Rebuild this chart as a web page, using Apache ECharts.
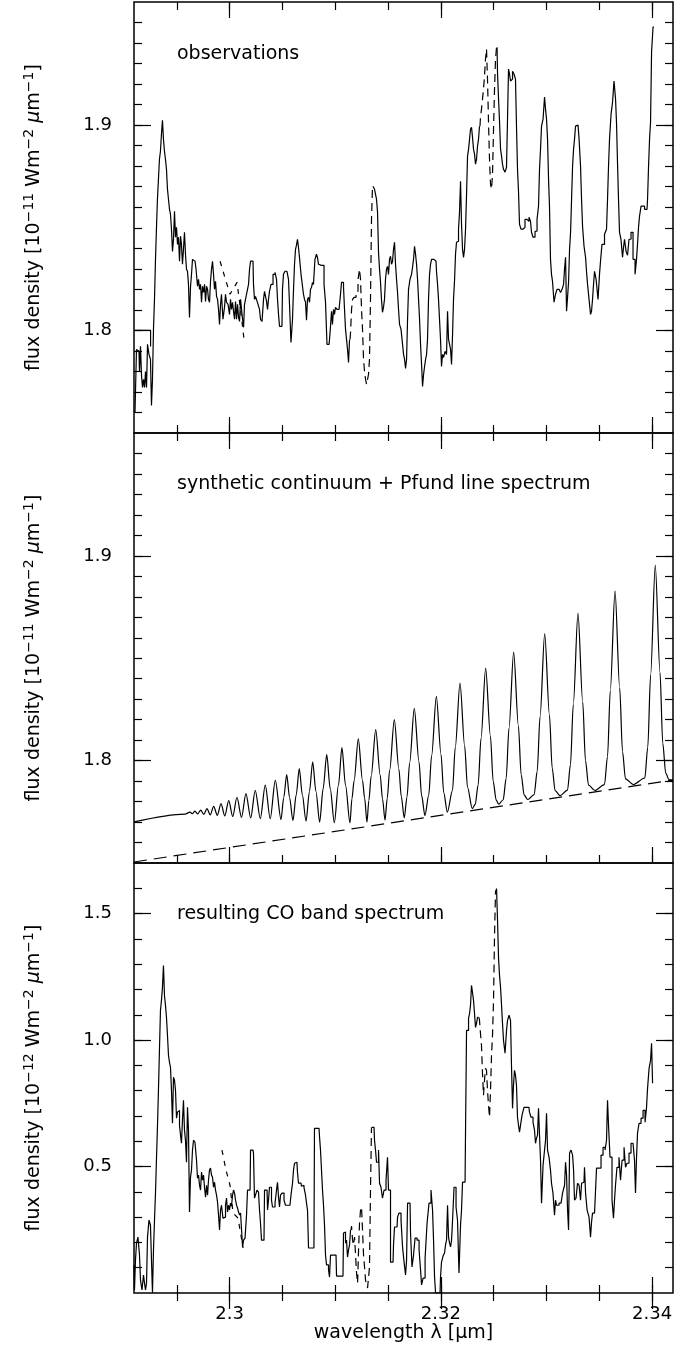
<!DOCTYPE html>
<html><head><meta charset="utf-8">
<script src="https://cdn.jsdelivr.net/npm/echarts@6/dist/echarts.min.js"></script>
<style>html,body{margin:0;padding:0;background:#fff}#c{width:694px;height:1351px}</style>
</head><body><div id="c"></div>
<script>
// ---------- tick values / labels ----------
const xMajorTicks = [2.30, 2.32, 2.34];
const xMinorTicks = [2.295, 2.300, 2.305, 2.310, 2.315, 2.320, 2.325, 2.330, 2.335, 2.340];
const fluxMajorTicks = [1.8, 1.9];
const fluxMinorTicks = [1.76,1.77,1.78,1.79,1.80,1.81,1.82,1.83,1.84,1.85,1.86,1.87,1.88,1.89,1.90,1.91,1.92,1.93,1.94,1.95];
const coMajorTicks = [0.5, 1.0, 1.5];
const coMinorTicks = [0.1,0.2,0.3,0.4,0.5,0.6,0.7,0.8,0.9,1.0,1.1,1.2,1.3,1.4,1.5,1.6];
const panelTexts = ['observations', 'synthetic continuum + Pfund line spectrum', 'resulting CO band spectrum'];

// ---------- panel 1: observations (10^-11 W m^-2 um^-1) ----------
const obsSolidA = [[2.29094,1.7610],[2.29113,1.7600],[2.29122,1.7907],[2.29141,1.7898],[2.29151,1.7800],[2.29160,1.7922],[2.29170,1.7781],[2.29179,1.7722],[2.29189,1.7761],[2.29198,1.7722],[2.29208,1.7800],[2.29217,1.7722],[2.29227,1.7932],[2.29245,1.7883],[2.29255,1.7859],[2.29264,1.7634],[2.29274,1.7761],[2.29283,1.8005],[2.29293,1.8151],[2.29302,1.8346],[2.29311,1.8493],[2.29321,1.8639],[2.29330,1.8737],[2.29340,1.8834],[2.29349,1.8873],[2.29359,1.8956],[2.29368,1.9024],[2.29378,1.8932],[2.29387,1.8873],[2.29397,1.8834],[2.29406,1.8785],[2.29416,1.8688],[2.29425,1.8639],[2.29435,1.8590],[2.29444,1.8566],[2.29454,1.8493],[2.29463,1.8385],[2.29473,1.8444],[2.29482,1.8580],[2.29492,1.8454],[2.29501,1.8502],[2.29511,1.8419],[2.29520,1.8454],[2.29530,1.8337],[2.29539,1.8459],[2.29548,1.8419],[2.29558,1.8322],[2.29567,1.8395],[2.29577,1.8478],[2.29586,1.8371],[2.29596,1.8298],[2.29605,1.8288],[2.29615,1.8224],[2.29624,1.8063],[2.29634,1.8210],[2.29643,1.8273],[2.29653,1.8346],[2.29672,1.8337],[2.29691,1.8298],[2.29700,1.8215],[2.29710,1.8249],[2.29719,1.8200],[2.29729,1.8224],[2.29738,1.8137],[2.29748,1.8215],[2.29757,1.8185],[2.29767,1.8224],[2.29776,1.8141],[2.29786,1.8215],[2.29795,1.8200],[2.29804,1.8151],[2.29814,1.8137],[2.29823,1.8239],[2.29833,1.8298],[2.29842,1.8337],[2.29852,1.8273],[2.29861,1.8200],[2.29871,1.8239],[2.29880,1.8166],[2.29890,1.8151],[2.29899,1.8102],[2.29909,1.8029],[2.29918,1.8127],[2.29927,1.8176],[2.29946,1.8054],[2.29956,1.8112],[2.29965,1.8176],[2.29975,1.8137],[2.29994,1.8127],[2.30003,1.8078],[2.30013,1.8151],[2.30022,1.8102],[2.30032,1.8137],[2.30041,1.8093],[2.30051,1.8054],[2.30060,1.8141],[2.30070,1.8054],[2.30079,1.8127],[2.30089,1.8063],[2.30098,1.8044],[2.30108,1.8151],[2.30117,1.8102],[2.30127,1.8054],[2.30136,1.8015],[2.30145,1.8127],[2.30155,1.8151],[2.30164,1.8176],[2.30174,1.8200],[2.30183,1.8224],[2.30193,1.8298],[2.30202,1.8337],[2.30221,1.8337],[2.30230,1.8224],[2.30240,1.8151],[2.30249,1.8166],[2.30259,1.8151],[2.30278,1.8127],[2.30287,1.8102],[2.30297,1.8054],[2.30316,1.8044],[2.30325,1.8151],[2.30335,1.8190],[2.30344,1.8166],[2.30354,1.8141],[2.30363,1.8102],[2.30372,1.8151],[2.30382,1.8190],[2.30401,1.8224],[2.30420,1.8273],[2.30439,1.8283],[2.30448,1.8249],[2.30458,1.8151],[2.30467,1.8078],[2.30477,1.8020],[2.30495,1.8020],[2.30505,1.8200],[2.30514,1.8273],[2.30533,1.8288],[2.30552,1.8288],[2.30562,1.8249],[2.30571,1.8127],[2.30590,1.7941],[2.30600,1.8054],[2.30609,1.8200],[2.30619,1.8322],[2.30628,1.8395],[2.30637,1.8415],[2.30647,1.8444],[2.30656,1.8405],[2.30666,1.8356],[2.30685,1.8273],[2.30694,1.8215],[2.30704,1.8176],[2.30713,1.8151],[2.30723,1.8137],[2.30732,1.8049],[2.30742,1.8151],[2.30751,1.8161],[2.30761,1.8137],[2.30770,1.8200],[2.30780,1.8210],[2.30789,1.8234],[2.30798,1.8224],[2.30817,1.8346],[2.30827,1.8371],[2.30836,1.8356],[2.30846,1.8322],[2.30855,1.8317],[2.30884,1.8317],[2.30903,1.8224],[2.30912,1.8137],[2.30931,1.7932],[2.30941,1.7932],[2.30950,1.7956],[2.30960,1.8020],[2.30969,1.8093],[2.30978,1.8029],[2.30988,1.8102],[2.30997,1.8078],[2.31007,1.8112],[2.31026,1.8102],[2.31045,1.8102],[2.31054,1.8176],[2.31064,1.8234],[2.31073,1.8234],[2.31083,1.8210],[2.31092,1.8102],[2.31102,1.8005],[2.31111,1.7956],[2.31121,1.7907],[2.31130,1.7844],[2.31140,1.7956]];
const obsDashA = [[2.31140,1.7956],[2.31149,1.7990],[2.31159,1.8102],[2.31168,1.8151],[2.31187,1.8161],[2.31206,1.8190],[2.31225,1.8249],[2.31234,1.8298],[2.31244,1.8249],[2.31253,1.8102],[2.31263,1.8005],[2.31272,1.7859],[2.31282,1.7800],[2.31291,1.7761],[2.31301,1.7737],[2.31310,1.7741],[2.31319,1.7785],[2.31329,1.7859],[2.31338,1.8151],[2.31348,1.8541],[2.31357,1.8702]];
const obsSolidB = [[2.31357,1.8702],[2.31367,1.8698],[2.31376,1.8688],[2.31386,1.8663],[2.31395,1.8639],[2.31405,1.8576],[2.31414,1.8380],[2.31424,1.8298],[2.31433,1.8234],[2.31442,1.8151],[2.31452,1.8088],[2.31461,1.8112],[2.31471,1.8151],[2.31480,1.8249],[2.31490,1.8298],[2.31499,1.8312],[2.31509,1.8273],[2.31518,1.8346],[2.31528,1.8361],[2.31537,1.8322],[2.31547,1.8337],[2.31556,1.8395],[2.31566,1.8429],[2.31575,1.8322],[2.31585,1.8249],[2.31594,1.8185],[2.31604,1.8102],[2.31613,1.8029],[2.31632,1.8005],[2.31642,1.7932],[2.31651,1.7883],[2.31661,1.7859],[2.31670,1.7815],[2.31680,1.7859],[2.31689,1.8054],[2.31698,1.8200],[2.31717,1.8249],[2.31727,1.8273],[2.31736,1.8307],[2.31746,1.8346],[2.31755,1.8410],[2.31765,1.8371],[2.31774,1.8322],[2.31784,1.8249],[2.31793,1.8151],[2.31803,1.8054],[2.31812,1.7932],[2.31822,1.7834],[2.31831,1.7727],[2.31841,1.7785],[2.31850,1.7824],[2.31860,1.7859],[2.31869,1.7883],[2.31878,1.7956],[2.31888,1.8151],[2.31897,1.8273],[2.31907,1.8322],[2.31916,1.8346],[2.31935,1.8346],[2.31954,1.8337],[2.31964,1.8283],[2.31973,1.8224],[2.31982,1.8151],[2.31992,1.8054],[2.32001,1.7956],[2.32011,1.7824],[2.32020,1.7883],[2.32030,1.7868],[2.32049,1.7898],[2.32058,1.7883],[2.32068,1.8093],[2.32077,1.7956],[2.32087,1.7932],[2.32096,1.7907],[2.32106,1.7834],[2.32115,1.7981],[2.32124,1.8151],[2.32134,1.8239],[2.32143,1.8371],[2.32153,1.8429],[2.32162,1.8434],[2.32172,1.8493],[2.32181,1.8576],[2.32191,1.8727],[2.32200,1.8517],[2.32210,1.8395],[2.32219,1.8356],[2.32229,1.8395],[2.32238,1.8493],[2.32248,1.8663],[2.32257,1.8849],[2.32267,1.8883],[2.32276,1.8932],[2.32285,1.8980],[2.32295,1.8990],[2.32304,1.8941],[2.32314,1.8883],[2.32323,1.8859],[2.32333,1.8810],[2.32342,1.8834],[2.32352,1.8898],[2.32361,1.8932],[2.32370,1.8995]];
const obsDashB = [[2.32370,1.8995],[2.32380,1.9039],[2.32389,1.9078],[2.32399,1.9127],[2.32408,1.9176],[2.32418,1.9239],[2.32427,1.9322],[2.32437,1.9371],[2.32446,1.9224],[2.32456,1.9015],[2.32465,1.8834],[2.32475,1.8712],[2.32484,1.8688],[2.32494,1.8761],[2.32503,1.8980],[2.32513,1.9176],[2.32522,1.9322],[2.32532,1.9380]];
const obsSolidC = [[2.32532,1.9380],[2.32541,1.9249],[2.32551,1.9127],[2.32560,1.9015],[2.32570,1.8883],[2.32579,1.8849],[2.32588,1.8810],[2.32598,1.8785],[2.32617,1.8771],[2.32626,1.8795],[2.32636,1.9029],[2.32645,1.9273],[2.32655,1.9249],[2.32664,1.9215],[2.32674,1.9224],[2.32683,1.9263],[2.32702,1.9249],[2.32711,1.9224],[2.32721,1.8995],[2.32730,1.8785],[2.32740,1.8678],[2.32749,1.8517],[2.32768,1.8493],[2.32787,1.8502],[2.32806,1.8541],[2.32825,1.8532],[2.32844,1.8551],[2.32853,1.8532],[2.32863,1.8478],[2.32882,1.8454],[2.32901,1.8483],[2.32920,1.8541],[2.32929,1.8605],[2.32939,1.8785],[2.32948,1.8883],[2.32958,1.8995],[2.32977,1.9029],[2.32986,1.9137],[2.32996,1.9078],[2.33005,1.9029],[2.33015,1.8932],[2.33024,1.8737],[2.33033,1.8605],[2.33043,1.8346],[2.33052,1.8273],[2.33062,1.8239],[2.33081,1.8137],[2.33090,1.8176],[2.33109,1.8200],[2.33128,1.8200],[2.33138,1.8185],[2.33157,1.8200],[2.33166,1.8224],[2.33176,1.8298],[2.33185,1.8356],[2.33195,1.8093],[2.33204,1.8161],[2.33214,1.8234],[2.33223,1.8395],[2.33233,1.8478],[2.33242,1.8639],[2.33252,1.8800],[2.33261,1.8883],[2.33270,1.8932],[2.33280,1.8995],[2.33299,1.9000],[2.33318,1.8932],[2.33327,1.8800],[2.33337,1.8639],[2.33346,1.8507],[2.33365,1.8410],[2.33375,1.8356],[2.33384,1.8283],[2.33394,1.8224],[2.33412,1.8151],[2.33422,1.8078],[2.33431,1.8093],[2.33441,1.8151],[2.33450,1.8224],[2.33460,1.8288],[2.33479,1.8249],[2.33497,1.8151],[2.33507,1.8273],[2.33516,1.8337],[2.33535,1.8419],[2.33564,1.8468],[2.33573,1.8493],[2.33583,1.8639],[2.33592,1.8800],[2.33602,1.8932],[2.33621,1.9054],[2.33630,1.9112],[2.33649,1.9215],[2.33659,1.9127],[2.33668,1.9005],[2.33677,1.8819],[2.33687,1.8639],[2.33696,1.8478],[2.33715,1.8444],[2.33725,1.8356],[2.33734,1.8405],[2.33744,1.8444],[2.33763,1.8385],[2.33772,1.8366],[2.33791,1.8444],[2.33810,1.8478],[2.33829,1.8346],[2.33848,1.8273],[2.33857,1.8346],[2.33867,1.8419],[2.33876,1.8502],[2.33886,1.8556],[2.33905,1.8605],[2.33952,1.8590],[2.33962,1.8639],[2.33971,1.8800],[2.33981,1.8932],[2.33990,1.9015],[2.34000,1.9356],[2.34018,1.9478]];
const obsDashNear230 = [[2.29909,1.8337],[2.29946,1.8273],[2.30003,1.8176],[2.30070,1.8234],[2.30108,1.8078],[2.30136,1.7956]];
const obsEdge = [[2.29094,1.8000],[2.29251,1.8000],[2.29251,1.7922]];

// ---------- panel 2: synthetic continuum + Pfund lines ----------
const continuum = [[2.29094,1.7505],[2.34198,1.7905]];
const pfundSpectrum = [[2.29094,1.7701],[2.29577,1.7739],[2.29624,1.7748],[2.29648,1.7741],[2.29671,1.7753],[2.29698,1.7740],[2.29725,1.7758],[2.29755,1.7737],[2.29785,1.7766],[2.29816,1.7735],[2.29848,1.7777],[2.29883,1.7733],[2.29918,1.7790],[2.29954,1.7730],[2.29991,1.7805],[2.30029,1.7727],[2.30069,1.7821],[2.30112,1.7723],[2.30154,1.7839],[2.30199,1.7720],[2.30242,1.7855],[2.30290,1.7717],[2.30337,1.7880],[2.30384,1.7716],[2.30432,1.7904],[2.30486,1.7712],
[2.30512,1.7820],[2.30540,1.7932],[2.30567,1.7820],[2.30599,1.7707],
[2.30630,1.7833],[2.30659,1.7961],[2.30688,1.7833],[2.30723,1.7704],
[2.30755,1.7848],[2.30786,1.7994],[2.30817,1.7848],[2.30852,1.7700],
[2.30885,1.7863],[2.30919,1.8029],[2.30952,1.7863],[2.30991,1.7696],
[2.31030,1.7880],[2.31063,1.8063],[2.31097,1.7880],[2.31139,1.7696],
[2.31158,1.7815],[2.31178,1.7901],[2.31218,1.8106],[2.31258,1.7902],[2.31278,1.7817],[2.31300,1.7699],
[2.31318,1.7806],[2.31340,1.7925],[2.31383,1.8151],[2.31425,1.7930],[2.31447,1.7813],[2.31471,1.7709],
[2.31492,1.7816],[2.31515,1.7954],[2.31559,1.8200],[2.31602,1.7960],[2.31625,1.7824],[2.31653,1.7720],
[2.31679,1.7822],[2.31704,1.7988],[2.31748,1.8255],[2.31793,1.7993],[2.31817,1.7831],[2.31849,1.7732],
[2.31885,1.7831],[2.31912,1.8023],[2.31957,1.8314],[2.32001,1.8031],[2.32027,1.7844],[2.32061,1.7748],
[2.32110,1.7855],[2.32136,1.8063],[2.32181,1.8379],[2.32225,1.8072],[2.32252,1.7870],[2.32297,1.7766],
[2.32325,1.7786],[2.32353,1.7882],[2.32380,1.8109],[2.32424,1.8452],[2.32469,1.8120],[2.32495,1.7900],[2.32524,1.7807],[2.32547,1.7787],
[2.32590,1.7809],[2.32618,1.7913],[2.32645,1.8159],[2.32689,1.8530],[2.32734,1.8170],[2.32760,1.7932],[2.32789,1.7831],[2.32822,1.7810],
[2.32883,1.7834],[2.32912,1.7947],[2.32939,1.8215],[2.32983,1.8620],[2.33028,1.8224],[2.33054,1.7963],[2.33082,1.7853],[2.33128,1.7829],
[2.33199,1.7856],[2.33227,1.7981],[2.33254,1.8275],[2.33298,1.8720],[2.33343,1.8287],[2.33369,1.8001],[2.33398,1.7880],[2.33459,1.7854],
[2.33549,1.7883],[2.33578,1.8020],[2.33604,1.8341],[2.33649,1.8829],[2.33693,1.8356],[2.33720,1.8044],[2.33748,1.7911],[2.33822,1.7883],
[2.33931,1.7915],[2.33959,1.8065],[2.33986,1.8419],[2.34030,1.8955],[2.34075,1.8431],[2.34101,1.8085],[2.34129,1.7939],[2.34160,1.7907],[2.34198,1.7904]];

// ---------- panel 3: resulting CO band spectrum (10^-12 W m^-2 um^-1) ----------
const coSolidA = [[2.29094,0.111],[2.29103,0.012],[2.29113,0.130],[2.29122,0.197],[2.29141,0.221],[2.29151,0.150],[2.29160,0.051],[2.29179,0.012],[2.29189,0.071],[2.29198,0.039],[2.29208,0.012],[2.29217,0.039],[2.29227,0.221],[2.29245,0.288],[2.29255,0.268],[2.29264,0.130],[2.29274,0.000],[2.29283,0.170],[2.29293,0.288],[2.29302,0.395],[2.29311,0.525],[2.29321,0.655],[2.29330,0.801],[2.29340,0.959],[2.29349,1.117],[2.29359,1.157],[2.29368,1.208],[2.29378,1.295],[2.29387,1.176],[2.29397,1.137],[2.29406,1.090],[2.29416,1.019],[2.29425,0.940],[2.29435,0.912],[2.29444,0.892],[2.29454,0.801],[2.29463,0.671],[2.29473,0.853],[2.29482,0.841],[2.29492,0.801],[2.29501,0.691],[2.29511,0.715],[2.29520,0.722],[2.29530,0.663],[2.29539,0.624],[2.29548,0.592],[2.29558,0.683],[2.29567,0.762],[2.29577,0.644],[2.29586,0.604],[2.29596,0.517],[2.29605,0.734],[2.29615,0.644],[2.29624,0.320],[2.29634,0.458],[2.29643,0.486],[2.29653,0.565],[2.29662,0.604],[2.29681,0.596],[2.29691,0.525],[2.29700,0.454],[2.29710,0.466],[2.29719,0.426],[2.29729,0.407],[2.29738,0.478],[2.29748,0.446],[2.29757,0.466],[2.29767,0.415],[2.29776,0.379],[2.29786,0.426],[2.29795,0.387],[2.29804,0.446],[2.29814,0.486],[2.29823,0.494],[2.29833,0.466],[2.29842,0.458],[2.29852,0.418],[2.29861,0.438],[2.29871,0.407],[2.29880,0.387],[2.29890,0.359],[2.29899,0.308],[2.29909,0.249],[2.29918,0.328],[2.29927,0.347],[2.29946,0.296],[2.29956,0.300],[2.29965,0.347],[2.29975,0.375],[2.29984,0.320],[2.29994,0.347],[2.30003,0.328],[2.30013,0.355],[2.30022,0.343],[2.30032,0.387],[2.30041,0.407],[2.30051,0.395],[2.30060,0.367],[2.30070,0.347],[2.30079,0.336],[2.30089,0.320],[2.30098,0.308],[2.30108,0.316],[2.30117,0.249],[2.30127,0.182],[2.30136,0.209],[2.30155,0.217],[2.30164,0.308],[2.30174,0.407],[2.30193,0.407],[2.30202,0.565],[2.30221,0.565],[2.30230,0.553],[2.30240,0.375],[2.30249,0.387],[2.30268,0.407],[2.30278,0.399],[2.30287,0.328],[2.30297,0.276],[2.30306,0.209],[2.30325,0.209],[2.30335,0.407],[2.30354,0.407],[2.30363,0.328],[2.30372,0.367],[2.30382,0.418],[2.30391,0.418],[2.30401,0.367],[2.30410,0.340],[2.30420,0.340],[2.30439,0.355],[2.30448,0.407],[2.30458,0.438],[2.30467,0.379],[2.30477,0.340],[2.30486,0.387],[2.30505,0.395],[2.30524,0.367],[2.30533,0.347],[2.30571,0.347],[2.30590,0.387],[2.30600,0.434],[2.30609,0.486],[2.30619,0.513],[2.30637,0.517],[2.30647,0.478],[2.30656,0.434],[2.30675,0.434],[2.30685,0.422],[2.30694,0.426],[2.30713,0.418],[2.30723,0.387],[2.30732,0.355],[2.30742,0.328],[2.30751,0.178],[2.30798,0.178],[2.30808,0.651],[2.30846,0.651],[2.30855,0.620],[2.30865,0.565],[2.30874,0.486],[2.30884,0.407],[2.30893,0.347],[2.30903,0.268],[2.30912,0.150],[2.30922,0.111],[2.30931,0.111],[2.30941,0.091],[2.30950,0.063],[2.30960,0.150],[2.31007,0.150],[2.31017,0.067],[2.31073,0.067],[2.31083,0.237],[2.31092,0.241],[2.31102,0.197],[2.31111,0.209],[2.31121,0.142],[2.31130,0.170],[2.31140,0.190],[2.31149,0.249]];
const coDashA = [[2.31149,0.249],[2.31159,0.265],[2.31168,0.209],[2.31178,0.190],[2.31187,0.221],[2.31197,0.150],[2.31206,0.079],[2.31216,0.039],[2.31225,0.170],[2.31234,0.276],[2.31244,0.328],[2.31253,0.340],[2.31263,0.249],[2.31272,0.150],[2.31282,0.103],[2.31291,0.051],[2.31301,0.032],[2.31310,0.020],[2.31319,0.059],[2.31329,0.103],[2.31338,0.407],[2.31348,0.655]];
const coSolidB = [[2.31348,0.655],[2.31367,0.655],[2.31376,0.604],[2.31386,0.565],[2.31395,0.517],[2.31405,0.517],[2.31414,0.565],[2.31424,0.434],[2.31442,0.418],[2.31452,0.375],[2.31471,0.407],[2.31490,0.446],[2.31499,0.537],[2.31509,0.407],[2.31518,0.407],[2.31528,0.122],[2.31547,0.122],[2.31556,0.190],[2.31566,0.261],[2.31585,0.261],[2.31594,0.300],[2.31613,0.316],[2.31632,0.288],[2.31642,0.182],[2.31661,0.122],[2.31670,0.071],[2.31680,0.130],[2.31689,0.355],[2.31708,0.355],[2.31717,0.237],[2.31736,0.103],[2.31746,0.150],[2.31765,0.217],[2.31784,0.209],[2.31803,0.170],[2.31812,0.091],[2.31822,0.032],[2.31841,0.059],[2.31860,0.138],[2.31878,0.276],[2.31897,0.355],[2.31916,0.407],[2.31926,0.328],[2.31935,0.209],[2.31945,0.063],[2.31954,0.000],[2.31992,0.000],[2.32001,0.063],[2.32011,0.122],[2.32030,0.146],[2.32039,0.158],[2.32049,0.190],[2.32058,0.209],[2.32068,0.347],[2.32077,0.221],[2.32087,0.197],[2.32096,0.182],[2.32106,0.209],[2.32115,0.288],[2.32134,0.418],[2.32153,0.340],[2.32162,0.288],[2.32181,0.079],[2.32191,0.268],[2.32200,0.328],[2.32210,0.438],[2.32229,0.438],[2.32238,0.644],[2.32248,1.038],[2.32257,1.038],[2.32267,1.086],[2.32276,1.105],[2.32285,1.137],[2.32295,1.216],[2.32304,1.188],[2.32314,1.157],[2.32323,1.105],[2.32333,1.050],[2.32342,1.066],[2.32352,1.090],[2.32361,1.090]];
const coDashB = [[2.32361,1.090],[2.32370,1.078],[2.32380,1.026],[2.32389,0.979],[2.32399,0.869],[2.32408,0.782],[2.32418,0.841],[2.32427,0.888],[2.32437,0.880],[2.32446,0.801],[2.32456,0.742],[2.32465,0.695],[2.32475,0.801],[2.32484,0.940],[2.32494,1.019],[2.32503,1.157],[2.32513,1.413],[2.32522,1.591]];
const coSolidC = [[2.32522,1.591],[2.32532,1.599],[2.32541,1.473],[2.32551,1.323],[2.32560,1.255],[2.32570,1.208],[2.32579,1.137],[2.32588,1.066],[2.32598,0.999],[2.32617,0.948],[2.32626,1.038],[2.32636,1.078],[2.32655,1.098],[2.32664,1.078],[2.32674,0.892],[2.32683,0.730],[2.32692,0.821],[2.32702,0.880],[2.32711,0.861],[2.32721,0.821],[2.32730,0.695],[2.32740,0.663],[2.32749,0.636],[2.32759,0.663],[2.32778,0.703],[2.32796,0.734],[2.32834,0.734],[2.32844,0.715],[2.32863,0.695],[2.32882,0.675],[2.32891,0.644],[2.32901,0.592],[2.32910,0.612],[2.32920,0.624],[2.32929,0.730],[2.32939,0.624],[2.32948,0.525],[2.32958,0.355],[2.32977,0.505],[2.32986,0.565],[2.32996,0.604],[2.33005,0.711],[2.33015,0.565],[2.33033,0.537],[2.33043,0.486],[2.33052,0.434],[2.33071,0.395],[2.33081,0.308],[2.33090,0.367],[2.33100,0.347],[2.33138,0.355],[2.33166,0.395],[2.33176,0.426],[2.33185,0.517],[2.33195,0.466],[2.33204,0.328],[2.33214,0.249],[2.33223,0.553],[2.33242,0.565],[2.33252,0.545],[2.33261,0.486],[2.33270,0.367],[2.33289,0.375],[2.33299,0.434],[2.33318,0.426],[2.33327,0.367],[2.33337,0.434],[2.33355,0.438],[2.33365,0.497],[2.33375,0.395],[2.33394,0.328],[2.33412,0.300],[2.33422,0.221],[2.33431,0.280],[2.33441,0.316],[2.33469,0.320],[2.33479,0.494],[2.33507,0.494],[2.33526,0.545],[2.33545,0.576],[2.33564,0.565],[2.33573,0.604],[2.33583,0.762],[2.33592,0.663],[2.33611,0.537],[2.33630,0.367],[2.33639,0.296],[2.33649,0.367],[2.33658,0.426],[2.33677,0.497],[2.33696,0.537],[2.33706,0.446],[2.33725,0.525],[2.33744,0.576],[2.33753,0.497],[2.33772,0.513],[2.33791,0.553],[2.33810,0.592],[2.33829,0.592],[2.33838,0.525],[2.33848,0.395],[2.33857,0.533],[2.33867,0.632],[2.33886,0.671],[2.33905,0.691],[2.33924,0.722],[2.33943,0.675],[2.33952,0.734],[2.33962,0.809],[2.33981,0.888],[2.33990,0.920],[2.34000,0.987],[2.34009,0.829]];
const coDashNear230 = [[2.29927,0.565],[2.29965,0.486],[2.30003,0.426],[2.30032,0.316],[2.30079,0.296],[2.30127,0.178]];

// ---------- layout / styling ----------
const FONT = 'DejaVu Sans';
const X_MIN = 2.29094, X_MAX = 2.34198;
const BLACK = '#000';
const yTitleRich = {
  a: {fontSize: 19, fontFamily: FONT, color: BLACK, lineHeight: 24},
  s: {fontSize: 14, fontFamily: FONT, color: BLACK, lineHeight: 13, verticalAlign: 'top'},
  m: {fontSize: 19, fontFamily: FONT, color: BLACK, fontStyle: 'italic', lineHeight: 24}
};
function yTitle(exp) {
  return '{a|flux density [10}{s|\u2212' + exp + '}{a| Wm}{s|\u22122}{a| }{m|\u03bc}{a|m}{s|\u22121}{a|]}';
}
const panels = [
  {top: 2, height: 431, min: 1.75, max: 1.96, major: fluxMajorTicks, minor: fluxMinorTicks, labels: fluxMajorTicks, fmt: v => String(+(+v).toFixed(2)), title: yTitle('11')},
  {top: 433, height: 430, min: 1.75, max: 1.96, major: fluxMajorTicks, minor: fluxMinorTicks, labels: fluxMajorTicks, fmt: v => String(+(+v).toFixed(2)), title: yTitle('11')},
  {top: 863, height: 430, min: 0, max: 1.7, major: coMajorTicks, minor: coMinorTicks, labels: coMajorTicks, fmt: v => (+v).toFixed(1), title: yTitle('12')}
];

const grids = [], xAxes = [], yAxes = [];
const tickStyle = {color: BLACK, width: 1.2};
panels.forEach((p, g) => {
  grids.push({left: 134, right: 21, top: p.top, height: p.height, show: true, borderColor: BLACK, borderWidth: 1.5, backgroundColor: 'transparent', containLabel: false, outerBoundsMode: 'none'});
  const isLast = g === panels.length - 1;
  const xBase = {gridIndex: g, type: 'value', min: X_MIN, max: X_MAX, axisLine: {show: false}, splitLine: {show: false}, axisPointer: {show: false}};
  xAxes.push(Object.assign({}, xBase, {position: 'bottom',
    axisTick: {show: true, inside: true, length: 16, customValues: xMajorTicks, lineStyle: tickStyle},
    axisLabel: {show: isLast, customValues: xMajorTicks, margin: 12, color: BLACK, fontFamily: FONT, fontSize: 18, formatter: v => String(+(+v).toFixed(2))},
    name: isLast ? 'wavelength \u03bb [\u03bcm]' : '', nameLocation: 'middle', nameGap: 27,
    nameTextStyle: {color: BLACK, fontFamily: FONT, fontSize: 19, lineHeight: 19}}));
  xAxes.push(Object.assign({}, xBase, {position: 'bottom',
    axisTick: {show: true, inside: true, length: 8, customValues: xMinorTicks, lineStyle: tickStyle}, axisLabel: {show: false}}));
  xAxes.push(Object.assign({}, xBase, {position: 'top',
    axisTick: {show: true, inside: true, length: 16, customValues: xMajorTicks, lineStyle: tickStyle}, axisLabel: {show: false}}));
  xAxes.push(Object.assign({}, xBase, {position: 'top',
    axisTick: {show: true, inside: true, length: 8, customValues: xMinorTicks, lineStyle: tickStyle}, axisLabel: {show: false}}));

  const yBase = {gridIndex: g, type: 'value', min: p.min, max: p.max, axisLine: {show: false}, splitLine: {show: false}, axisPointer: {show: false}};
  yAxes.push(Object.assign({}, yBase, {position: 'left',
    axisTick: {show: true, inside: true, length: 17, customValues: p.major, lineStyle: tickStyle},
    axisLabel: {show: true, customValues: p.labels, margin: 22, color: BLACK, fontFamily: FONT, fontSize: 18, formatter: p.fmt},
    name: p.title, nameLocation: 'middle', nameGap: 88, nameRotate: 90,
    nameTextStyle: {rich: yTitleRich}}));
  yAxes.push(Object.assign({}, yBase, {position: 'left',
    axisTick: {show: true, inside: true, length: 8, customValues: p.minor, lineStyle: tickStyle}, axisLabel: {show: false}}));
  yAxes.push(Object.assign({}, yBase, {position: 'right',
    axisTick: {show: true, inside: true, length: 17, customValues: p.major, lineStyle: tickStyle}, axisLabel: {show: false}}));
  yAxes.push(Object.assign({}, yBase, {position: 'right',
    axisTick: {show: true, inside: true, length: 8, customValues: p.minor, lineStyle: tickStyle}, axisLabel: {show: false}}));
});

function line(data, g, opts) {
  opts = opts || {};
  return {
    type: 'line', xAxisIndex: g * 4, yAxisIndex: g * 4, data: data,
    symbol: 'none', showSymbol: false, silent: true, animation: false,
    step: opts.step === undefined ? 'middle' : opts.step,
    smooth: opts.smooth || false, smoothMonotone: opts.smooth ? 'x' : undefined,
    lineStyle: {color: BLACK, width: 1.2, type: opts.dash || 'solid'},
    clip: true, z: 3
  };
}
const specDash = [8, 5];
const series = [
  line(obsSolidA, 0), line(obsDashA, 0, {dash: specDash}), line(obsSolidB, 0),
  line(obsDashB, 0, {dash: specDash}), line(obsSolidC, 0),
  line(obsDashNear230, 0, {dash: [5, 6], step: false}), line(obsEdge, 0, {step: false}),
  line(continuum, 1, {dash: [13, 7], step: false}),
  line(pfundSpectrum, 1, {step: false, smooth: 0.3}),
  line(coSolidA, 2), line(coDashA, 2, {dash: specDash}), line(coSolidB, 2),
  line(coDashB, 2, {dash: specDash}), line(coSolidC, 2),
  line(coDashNear230, 2, {dash: [5, 6], step: false})
];

const textTops = [45, 475, 905];
const graphic = panelTexts.map((t, i) => ({
  type: 'text', left: 177, top: textTops[i], silent: true,
  style: {text: t, font: '19px "DejaVu Sans"', fill: BLACK}
}));

const chart = echarts.init(document.getElementById('c'), null, {renderer: 'canvas'});
chart.setOption({
  animation: false,
  backgroundColor: '#fff',
  textStyle: {fontFamily: FONT, color: BLACK},
  grid: grids, xAxis: xAxes, yAxis: yAxes, series: series, graphic: graphic
});
</script></body></html>
